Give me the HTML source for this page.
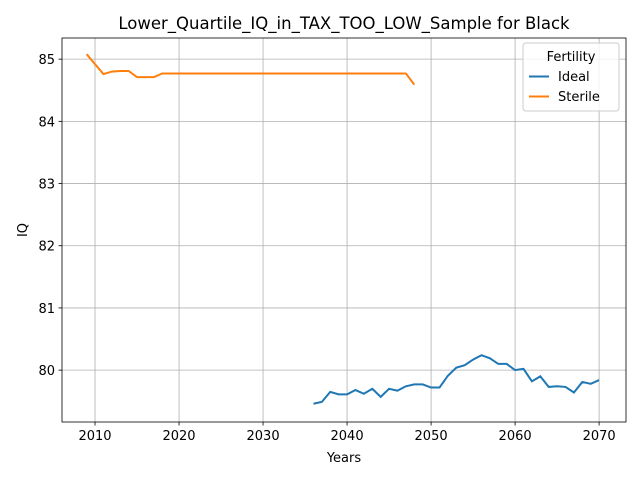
<!DOCTYPE html>
<html><head><meta charset="utf-8"><style>
body{margin:0;background:#fff;font-family:"Liberation Sans","DejaVu Sans",sans-serif}
text{font-family:"DejaVu Sans","Liberation Sans",sans-serif}
</style></head><body>
<svg id="c" width="640" height="480" xmlns="http://www.w3.org/2000/svg"></svg>
<script>
const idealYears=[2036,2037,2038,2039,2040,2041,2042,2043,2044,2045,2046,2047,2048,2049,2050,2051,2052,2053,2054,2055,2056,2057,2058,2059,2060,2061,2062,2063,2064,2065,2066,2067,2068,2069,2070];
const idealValues=[79.46,79.49,79.65,79.61,79.61,79.68,79.62,79.70,79.57,79.70,79.67,79.74,79.77,79.77,79.72,79.72,79.91,80.04,80.08,80.17,80.24,80.19,80.10,80.10,80.00,80.02,79.82,79.90,79.73,79.74,79.73,79.64,79.81,79.78,79.84];
const sterileYears=[2009,2010,2011,2012,2013,2014,2015,2016,2017,2018,2019,2020,2021,2022,2023,2024,2025,2026,2027,2028,2029,2030,2031,2032,2033,2034,2035,2036,2037,2038,2039,2040,2041,2042,2043,2044,2045,2046,2047,2048];
const sterileValues=[85.08,84.92,84.76,84.80,84.81,84.81,84.71,84.71,84.71,84.77,84.77,84.77,84.77,84.77,84.77,84.77,84.77,84.77,84.77,84.77,84.77,84.77,84.77,84.77,84.77,84.77,84.77,84.77,84.77,84.77,84.77,84.77,84.77,84.77,84.77,84.77,84.77,84.77,84.77,84.59];
const xTicks=[2010,2020,2030,2040,2050,2060,2070];
const yTicks=[80,81,82,83,84,85];
const L=62,R=626,T=38,B=422;
const x0=2006.07,x1=2073.2,y0=79.166,y1=85.34;
const sx=v=>L+(v-x0)/(x1-x0)*(R-L);
const sy=v=>B-(v-y0)/(y1-y0)*(B-T);
const svg=document.getElementById('c');const NS='http://www.w3.org/2000/svg';
function mk(t,a,p){const e=document.createElementNS(NS,t);for(const k in a)e.setAttribute(k,a[k]);(p||svg).appendChild(e);return e;}
xTicks.forEach(t=>{const X=sx(t);
const g=mk('line',{x1:X,x2:X,y1:T,y2:B,stroke:'#b0b0b0','stroke-width':0.8});

mk('line',{x1:X,x2:X,y1:B,y2:B+3.5,stroke:'#000','stroke-width':0.8});
const tx=mk('text',{x:X,y:B+18,'text-anchor':'middle','font-size':13});tx.textContent=t;
});
yTicks.forEach(t=>{const Y=sy(t);
const g=mk('line',{x1:L,x2:R,y1:Y,y2:Y,stroke:'#b0b0b0','stroke-width':0.8});

mk('line',{x1:L-3.5,x2:L,y1:Y,y2:Y,stroke:'#000','stroke-width':0.8});
const tx=mk('text',{x:L-7,y:Y+5,'text-anchor':'end','font-size':13});tx.textContent=t;
});
function line(xs,ys,c,n){const p=mk('polyline',{points:xs.map((v,i)=>sx(v)+','+sy(ys[i])).join(' '),fill:'none',stroke:c,'stroke-width':2});
}
line(idealYears,idealValues,'#1f77b4','ideal-line');
line(sterileYears,sterileValues,'#ff7f0e','sterile-line');
const f=mk('rect',{x:L,y:T,width:R-L,height:B-T,fill:'none',stroke:'#000','stroke-width':0.8});

let t=mk('text',{x:344,y:29,'text-anchor':'middle','font-size':16.5});t.textContent='Lower_Quartile_IQ_in_TAX_TOO_LOW_Sample for Black';

t=mk('text',{x:344,y:462,'text-anchor':'middle','font-size':13});t.textContent='Years';

t=mk('text',{x:27,y:230,'text-anchor':'middle','font-size':13,transform:'rotate(-90 27 230)'});t.textContent='IQ';

const lg=mk('g',{});
mk('rect',{x:523,y:43,width:96,height:68,rx:3,fill:'#fff','fill-opacity':0.8,stroke:'#ccc'},lg);
t=mk('text',{x:571,y:61,'text-anchor':'middle','font-size':13},lg);t.textContent='Fertility';
[['Ideal','#1f77b4',81],['Sterile','#ff7f0e',101]].forEach(([n,c,y])=>{
const e=mk('g',{},lg);
mk('line',{x1:529,x2:549,y1:y-4.5,y2:y-4.5,stroke:c,'stroke-width':2},e);
const tt=mk('text',{x:558,y:y,'font-size':13},e);tt.textContent=n;});
</script>
</body></html>
